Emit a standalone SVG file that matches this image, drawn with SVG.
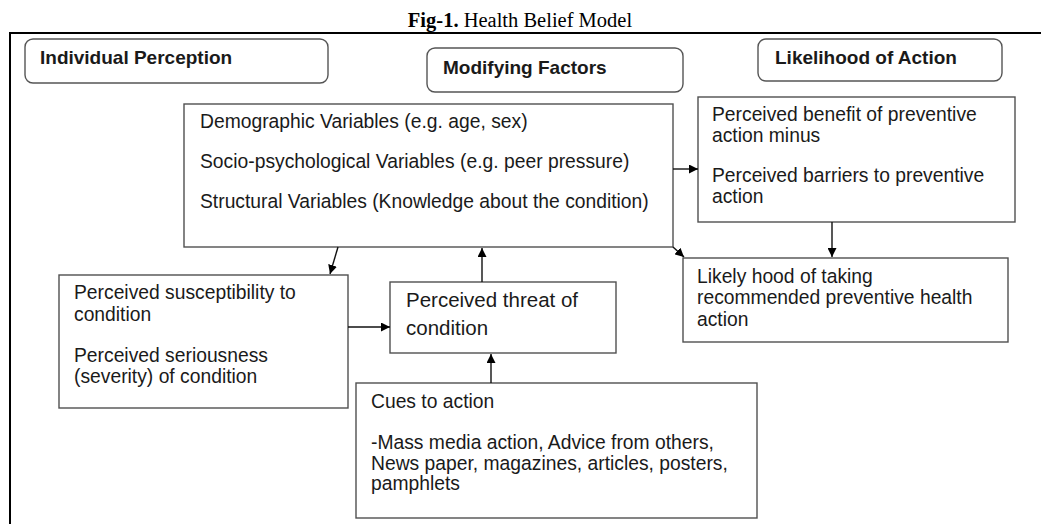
<svg xmlns="http://www.w3.org/2000/svg" width="1041" height="524" viewBox="0 0 1041 524">
<style>
.box{fill:#fff;stroke:#505050;stroke-width:1.4}
.hdr{fill:#fff;stroke:#555;stroke-width:1.4}
.t{font-family:"Liberation Sans",Arial,sans-serif;font-size:19.3px;fill:#1a1a1a}
.h{font-family:"Liberation Sans",Arial,sans-serif;font-size:19px;font-weight:bold;fill:#1a1a1a}
.ttl{font-family:"Liberation Serif","Times New Roman",serif;font-size:20.5px;fill:#000}
.c{stroke:#111;stroke-width:1.4;fill:none;marker-end:url(#ah)}
</style>
<defs>
<marker id="ah" viewBox="0 0 10 10" refX="10" refY="5" markerWidth="9" markerHeight="9" markerUnits="userSpaceOnUse" orient="auto">
<path d="M0,0 L10,5 L0,10 z" fill="#000"/>
</marker>
</defs>
<rect width="1041" height="524" fill="#fff"/>
<text class="ttl" x="520" y="27" text-anchor="middle"><tspan font-weight="bold">Fig-1.</tspan> Health Belief Model</text>
<path d="M10,524 V33 H1041" fill="none" stroke="#000" stroke-width="2"/>

<g id="hdr-individual">
<rect class="hdr" x="25" y="39" width="303" height="44" rx="8"/>
<text class="h" x="40" y="64">Individual Perception</text>
</g>
<g id="hdr-modifying">
<rect class="hdr" x="427" y="48" width="256" height="44" rx="8"/>
<text class="h" x="443" y="74">Modifying Factors</text>
</g>
<g id="hdr-likelihood">
<rect class="hdr" x="758" y="39" width="244" height="42" rx="8"/>
<text class="h" x="775" y="64">Likelihood of Action</text>
</g>

<g id="modifying-variables">
<rect class="box" x="184" y="104" width="489" height="143"/>
<text class="t" x="200" y="128">Demographic Variables (e.g. age, sex)</text>
<text class="t" x="200" y="168">Socio-psychological Variables (e.g. peer pressure)</text>
<text class="t" x="200" y="208">Structural Variables (Knowledge about the condition)</text>
</g>

<g id="benefits-barriers">
<rect class="box" x="698" y="97" width="317" height="125"/>
<text class="t" x="712" y="121">Perceived benefit of preventive</text>
<text class="t" x="712" y="142">action minus</text>
<text class="t" x="712" y="182">Perceived barriers to preventive</text>
<text class="t" x="712" y="203">action</text>
</g>

<g id="likelihood-action">
<rect class="box" x="683" y="258" width="325" height="84"/>
<text class="t" x="697" y="283">Likely hood of taking</text>
<text class="t" x="697" y="304">recommended preventive health</text>
<text class="t" x="697" y="326">action</text>
</g>

<g id="susceptibility">
<rect class="box" x="59" y="275" width="289" height="133"/>
<text class="t" x="74" y="299">Perceived susceptibility to</text>
<text class="t" x="74" y="321">condition</text>
<text class="t" x="74" y="362">Perceived seriousness</text>
<text class="t" x="74" y="383">(severity) of condition</text>
</g>

<g id="threat">
<rect class="box" x="390" y="282" width="226" height="71"/>
<text class="t" x="406" y="307" style="font-size:20.5px">Perceived threat of</text>
<text class="t" x="406" y="335" style="font-size:20.5px">condition</text>
</g>

<g id="cues">
<rect class="box" x="356" y="383" width="401" height="135"/>
<text class="t" x="371" y="408">Cues to action</text>
<text class="t" x="371" y="449">-Mass media action, Advice from others,</text>
<text class="t" x="371" y="470">News paper, magazines, articles, posters,</text>
<text class="t" x="371" y="490">pamphlets</text>
</g>

<g id="connectors">
<line class="c" x1="673" y1="169" x2="698" y2="169"/>
<line class="c" x1="832" y1="222" x2="832" y2="257"/>
<line class="c" x1="673" y1="247" x2="684" y2="257"/>
<line class="c" x1="338" y1="247" x2="330" y2="274"/>
<line class="c" x1="482" y1="282" x2="482" y2="248"/>
<line class="c" x1="348" y1="327" x2="390" y2="327"/>
<line class="c" x1="491" y1="383" x2="491" y2="354"/>
</g>
</svg>
